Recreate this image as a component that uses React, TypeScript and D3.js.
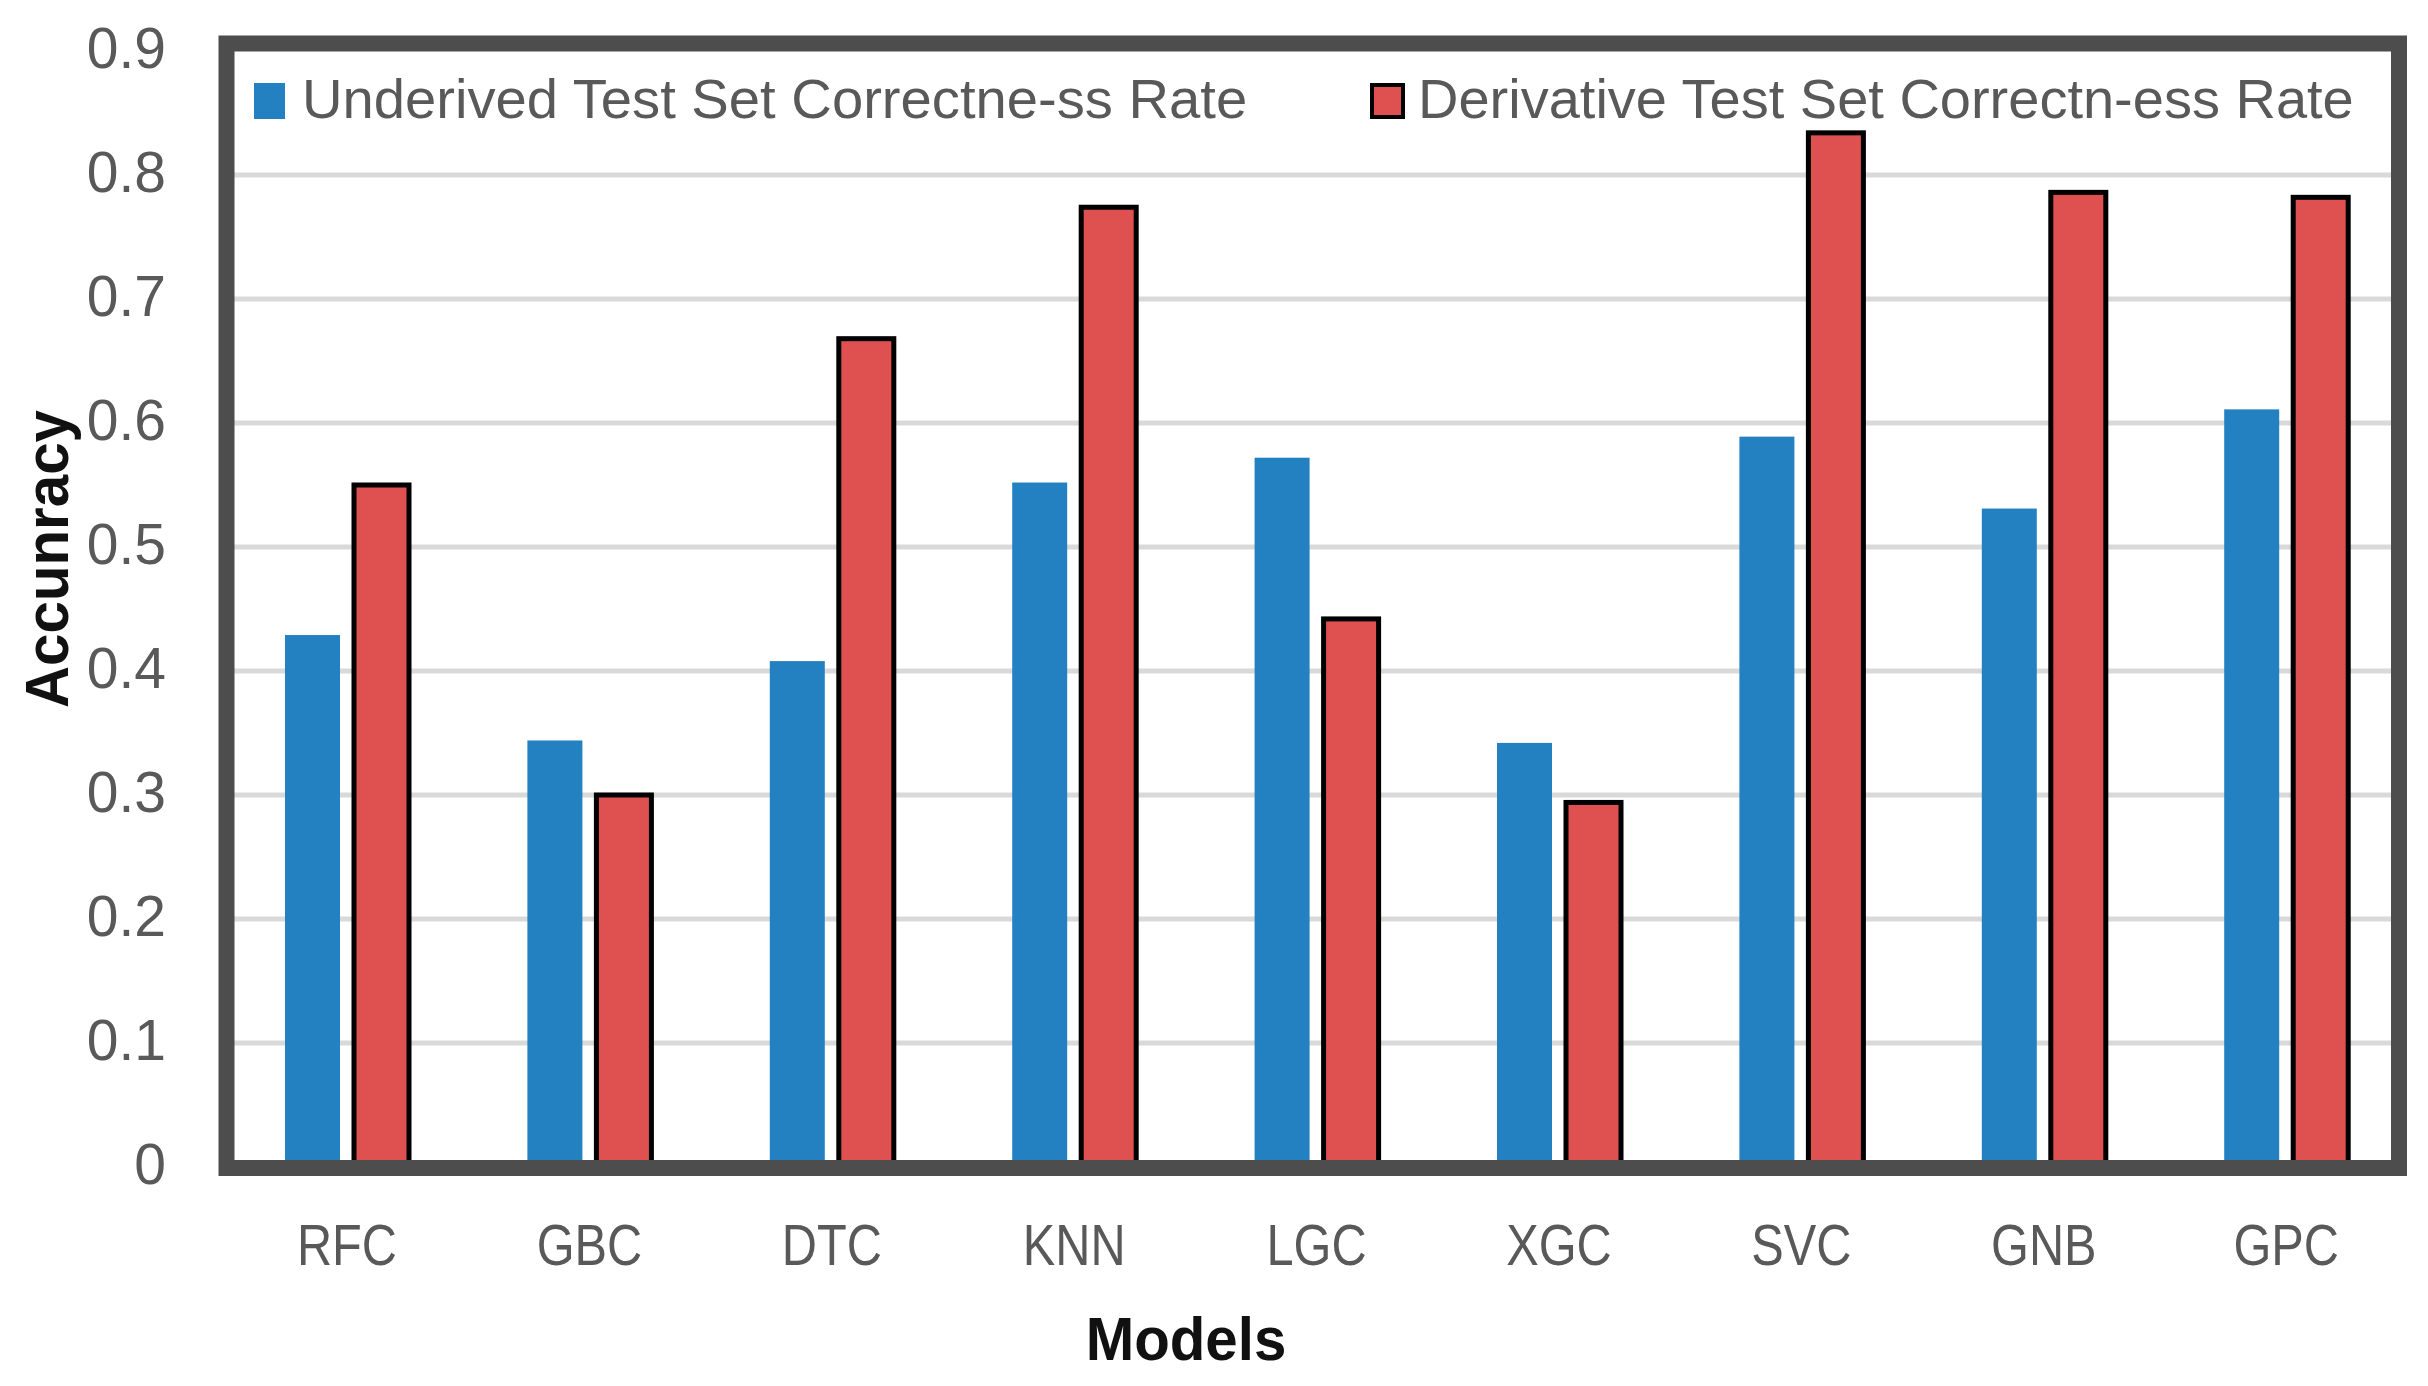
import React, { useEffect } from "react";
import * as d3 from "d3";

const categories = ["RFC", "GBC", "DTC", "KNN", "LGC", "XGC", "SVC", "GNB", "GPC"];
const seriesNames = [
  "Underived Test Set Correctne-ss Rate",
  "Derivative Test Set Correctn-ess Rate",
];
const underived = [0.429, 0.344, 0.408, 0.552, 0.572, 0.342, 0.589, 0.531, 0.611];
const derivative = [0.55, 0.3, 0.668, 0.774, 0.442, 0.294, 0.834, 0.786, 0.782];
const yTicks = [0, 0.1, 0.2, 0.3, 0.4, 0.5, 0.6, 0.7, 0.8, 0.9];

const W = 2428;
const H = 1386;
const FONT = "'Liberation Sans', Arial, sans-serif";
const BLUE = "#2481c1";
const RED = "#df5050";
const GRAY_TEXT = "#595959";

export default function App() {
  useEffect(() => {
    document.body.style.margin = "0";
  }, []);

  const x0 = d3
    .scaleBand<string>()
    .domain(categories)
    .range([225.8, 2407.4])
    .paddingInner(0.4884)
    .paddingOuter(0.2442);
  const x1 = d3
    .scaleBand<number>()
    .domain([0, 1])
    .range([0, x0.bandwidth()])
    .paddingInner(0.2029);
  const y = d3.scaleLinear().domain([0, 0.9]).range([1167, 51]);

  const series = [underived, derivative];

  return (
    <svg width={W} height={H} viewBox={`0 0 ${W} ${H}`} style={{ display: "block", background: "#fff" }}>
      <rect x={0} y={0} width={W} height={H} fill="#fff" />
      {/* gridlines */}
      {yTicks
        .filter((t) => t > 0 && t < 0.9)
        .map((t) => (
          <line key={`g${t}`} x1={230} x2={2400} y1={y(t)} y2={y(t)} stroke="#d9d9d9" strokeWidth={5} />
        ))}
      {/* bars */}
      {categories.map((c, i) => (
        <g key={c} transform={`translate(${x0(c)},0)`}>
          {series.map((vals, s) => (
            <rect
              key={s}
              x={x1(s)}
              y={y(vals[i])}
              width={x1.bandwidth()}
              height={y(0) - y(vals[i])}
              fill={s === 0 ? BLUE : RED}
              stroke={s === 0 ? "none" : "#000"}
              strokeWidth={s === 0 ? 0 : 5}
            />
          ))}
        </g>
      ))}
      {/* frame */}
      <rect x={226.5} y={43.5} width={2172.5} height={1124.5} fill="none" stroke="#4d4d4d" strokeWidth={16} />
      {/* y tick labels */}
      {yTicks.map((t) => (
        <text
          key={`t${t}`}
          x={166}
          y={y(t) + 17}
          textAnchor="end"
          fontFamily={FONT}
          fontSize={57}
          fill={GRAY_TEXT}
        >
          {d3.format(".1~f")(t)}
        </text>
      ))}
      {/* x labels */}
      {categories.map((c) => (
        <text
          key={`x${c}`}
          transform={`translate(${(x0(c) as number) + x0.bandwidth() / 2},1265) scale(0.84,1)`}
          textAnchor="middle"
          fontFamily={FONT}
          fontSize={58}
          fill={GRAY_TEXT}
        >
          {c}
        </text>
      ))}
      {/* axis titles */}
      <text
        transform={`translate(1186,1360) scale(0.94,1)`}
        textAnchor="middle"
        fontFamily={FONT}
        fontSize={62}
        fontWeight="bold"
        fill="#111"
      >
        Models
      </text>
      <text
        transform={`translate(68,559) rotate(-90) scale(0.94,1)`}
        textAnchor="middle"
        fontFamily={FONT}
        fontSize={62}
        fontWeight="bold"
        fill="#111"
      >
        Accunracy
      </text>
      {/* legend */}
      <rect x={254} y={83} width={31} height={36} fill={BLUE} />
      <text x={302} y={118} fontFamily={FONT} fontSize={56.2} fill={GRAY_TEXT}>
        {seriesNames[0]}
      </text>
      <rect x={1372} y={85} width={31} height={32} fill={RED} stroke="#000" strokeWidth={4} />
      <text x={1418} y={118} fontFamily={FONT} fontSize={56} fill={GRAY_TEXT}>
        {seriesNames[1]}
      </text>
    </svg>
  );
}
